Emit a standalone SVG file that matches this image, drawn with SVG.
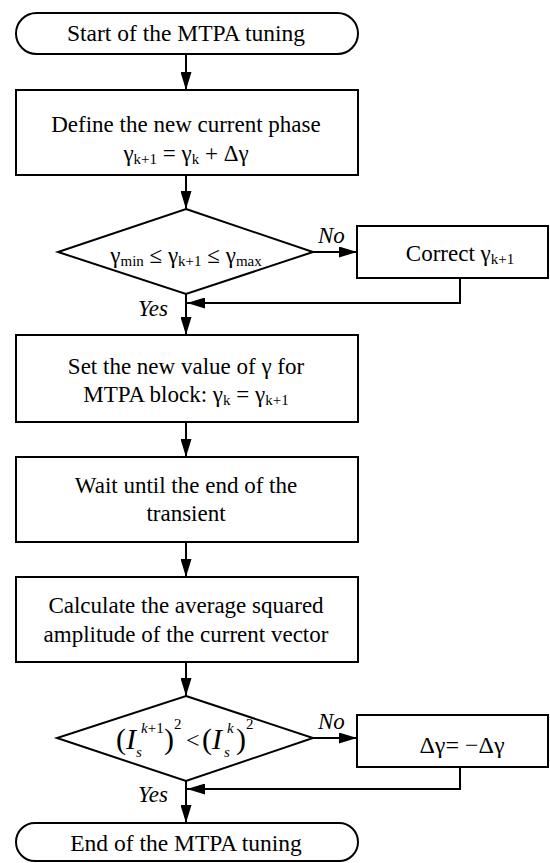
<svg xmlns="http://www.w3.org/2000/svg" width="550" height="863" viewBox="0 0 550 863">
<style>
.s{fill:#fff;stroke:#000;stroke-width:2}
.c{fill:none;stroke:#000;stroke-width:2}
.t{font-family:'Liberation Serif','Tinos','DejaVu Serif',serif;font-size:23px;fill:#000}
.m{text-anchor:middle}
.i{font-style:italic}
.sub{font-size:15px}
.big{font-size:30px}
</style>
<defs>
<marker id="ah" viewBox="0 0 18 11" refX="18" refY="5.5" markerWidth="18" markerHeight="11" markerUnits="userSpaceOnUse" orient="auto">
<path d="M0,0 L18,5.5 L0,11 Z" fill="#000"/>
</marker>
</defs>
<rect width="550" height="863" fill="#fff"/>
<g id="connectors">
<line class="c" x1="186" y1="54" x2="186" y2="90" marker-end="url(#ah)"/>
<line class="c" x1="186" y1="175" x2="186" y2="209" marker-end="url(#ah)"/>
<line class="c" x1="313" y1="252" x2="357" y2="252" marker-end="url(#ah)"/>
<polyline class="c" points="460,278 460,303 187,303" marker-end="url(#ah)"/>
<line class="c" x1="186" y1="294" x2="186" y2="335" marker-end="url(#ah)"/>
<line class="c" x1="186" y1="422" x2="186" y2="457" marker-end="url(#ah)"/>
<line class="c" x1="186" y1="542" x2="186" y2="577" marker-end="url(#ah)"/>
<line class="c" x1="186" y1="662" x2="186" y2="696" marker-end="url(#ah)"/>
<line class="c" x1="313" y1="738" x2="357" y2="738" marker-end="url(#ah)"/>
<polyline class="c" points="460,767 460,789 187,789" marker-end="url(#ah)"/>
<line class="c" x1="186" y1="781" x2="186" y2="823" marker-end="url(#ah)"/>
<text class="t i" x="318" y="243">No</text>
<text class="t i" x="138" y="316">Yes</text>
<text class="t i" x="318" y="729">No</text>
<text class="t i" x="138" y="802">Yes</text>
</g>
<g id="start">
<rect class="s" x="16" y="13" width="342" height="41" rx="20.5"/>
<text class="t m" x="186" y="41" style="font-size:23.5px">Start of the MTPA tuning</text>
</g>
<g id="define">
<rect class="s" x="16" y="90" width="342" height="85"/>
<text class="t m" x="186" y="132">Define the new current phase</text>
<text class="t m" x="186" y="161">γ<tspan class="sub" dy="3">k+1</tspan><tspan dy="-3"> = γ</tspan><tspan class="sub" dy="3">k</tspan><tspan dy="-3"> + Δγ</tspan></text>
</g>
<g id="check-range">
<polygon class="s" points="186,209 313,252 186,294 58,252"/>
<text class="t m" x="186" y="263">γ<tspan class="sub" dy="3">min</tspan><tspan dy="-3"> ≤ γ</tspan><tspan class="sub" dy="3">k+1</tspan><tspan dy="-3"> ≤ γ</tspan><tspan class="sub" dy="3">max</tspan></text>
</g>
<g id="correct">
<rect class="s" x="357" y="226" width="191" height="52"/>
<text class="t m" x="460" y="261">Correct γ<tspan class="sub" dy="3">k+1</tspan></text>
</g>
<g id="set">
<rect class="s" x="16" y="335" width="342" height="87"/>
<text class="t m" x="186" y="374">Set the new value of γ for</text>
<text class="t m" x="186" y="402">MTPA block: γ<tspan class="sub" dy="3">k</tspan><tspan dy="-3"> = γ</tspan><tspan class="sub" dy="3">k+1</tspan></text>
</g>
<g id="wait">
<rect class="s" x="16" y="457" width="342" height="85"/>
<text class="t m" x="186" y="493">Wait until the end of the</text>
<text class="t m" x="186" y="521">transient</text>
</g>
<g id="calculate">
<rect class="s" x="16" y="577" width="342" height="85"/>
<text class="t m" x="186" y="613">Calculate the average squared</text>
<text class="t m" x="186" y="642">amplitude of the current vector</text>
</g>
<g id="compare">
<polygon class="s" points="186,696 313,738 186,781 57,738"/>
<text class="t"><tspan class="big" x="116" y="749">(</tspan><tspan class="big i" x="126" y="749">I</tspan><tspan class="sub i" x="141" y="733">k</tspan><tspan class="sub">+1</tspan><tspan class="sub i" x="136" y="757">s</tspan><tspan class="big" x="164" y="749">)</tspan><tspan class="sub" x="174" y="729">2</tspan><tspan style="font-size:24px" x="186" y="748">&lt;</tspan><tspan class="big" x="202" y="749">(</tspan><tspan class="big i" x="212" y="749">I</tspan><tspan class="sub i" x="227" y="733">k</tspan><tspan class="sub i" x="224" y="757">s</tspan><tspan class="big" x="236" y="749">)</tspan><tspan class="sub" x="246" y="729">2</tspan></text>
</g>
<g id="negate">
<rect class="s" x="357" y="715" width="191" height="52"/>
<text class="t m" x="462" y="753" style="font-size:24px">Δγ= −Δγ</text>
</g>
<g id="end">
<rect class="s" x="16" y="823" width="342" height="38" rx="19"/>
<text class="t m" x="186" y="851" style="font-size:23.5px">End of the MTPA tuning</text>
</g>
</svg>
